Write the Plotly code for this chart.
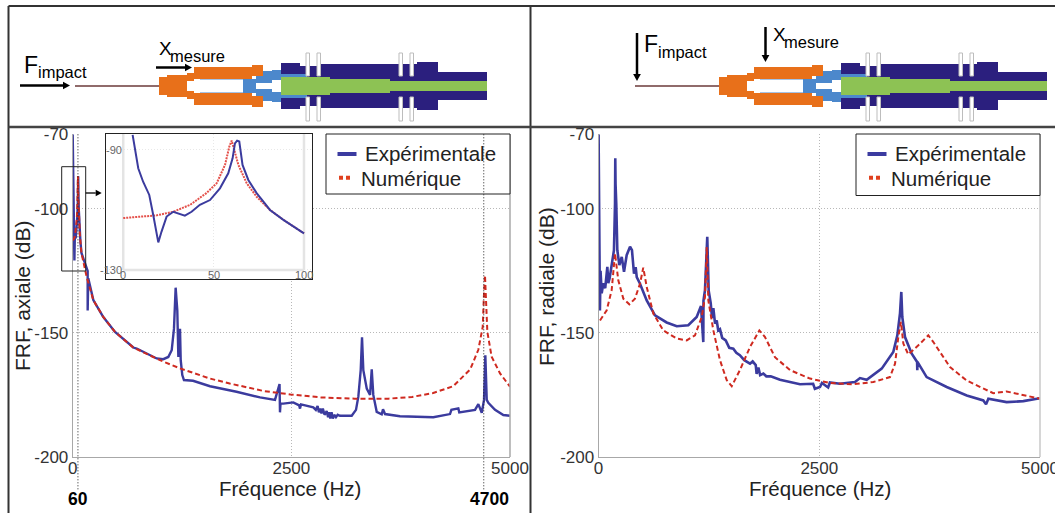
import plotly.graph_objects as go

W, H = 1055, 513
FONT = "Liberation Sans"
BLUE = "#3B3B9E"
RED = "#CF2A20"

NAME_EXP = "Expérimentale"
NAME_NUM = "Numérique"
X_TITLE = "Fréquence (Hz)"
Y_TITLE_AX = "FRF, axiale (dB)"
Y_TITLE_RAD = "FRF, radiale (dB)"
X_TICKS = [0, 2500, 5000]
X_LABELS = ["0", "2500", "5000"]
Y_TICKS = [-70, -100, -150, -200]
Y_LABELS = ["-70", "-100", "-150", "-200"]
MARK_FREQS = [60, 4700]
MARK_LABELS = ["60", "4700"]
INSET_X_TICKS = [0, 50, 100]
INSET_Y_TICKS = [-90, -130]

# Inset, axial 0-100 Hz
inset_num_f = [0, 9, 18.5, 27.7, 37, 46, 51.7, 56.3, 58.7, 60, 61.2, 63.7, 68.3, 73.8, 81.2, 88.6, 100]
inset_num_db = [-112.7, -112.3, -111.8, -110.6, -108.3, -104.4, -101.1, -95, -88.9, -86.9, -89.4, -95, -101.1, -105.6, -110, -113.3, -117.8]
inset_exp_f = [5.2, 6.5, 8.3, 11, 14.4, 16.6, 19.4, 21.2, 24, 27.7, 30.4, 34.1, 37.8, 42.4, 48, 53.5, 58.1, 60.5, 61.8, 63, 64.2, 66, 69.2, 73.8, 81.2, 88.6, 100]
inset_exp_db = [-85, -90, -96.1, -100.6, -105, -111.7, -120.8, -117.2, -112.2, -110.6, -111.1, -111.9, -110.6, -108.3, -106.7, -102.8, -97.8, -92.8, -87.8, -86.9, -87.2, -95, -100, -104.4, -110, -113.3, -117.8]

# Axial, whole band
ax_num_f = inset_num_f + [160, 236, 350, 484, 693, 998, 1227, 1570, 1795, 2182, 2490, 2839, 3224, 3611, 3880, 4122, 4350, 4545, 4638, 4688, 4703, 4714, 4741, 4790, 4886, 5000]
ax_num_db = inset_num_db + [-127.5, -136.8, -143.6, -149.6, -155.9, -161, -164.3, -168.4, -170.4, -173.4, -174.8, -176, -176.5, -176.5, -175.8, -174.2, -171.5, -164.7, -156.8, -147.6, -134, -126.8, -149.6, -159.6, -166.3, -171.7]
ax_exp_f = [0] + inset_exp_f + [165, 171, 171, 178, 236, 350, 484, 693, 732, 807, 960, 1036, 1093, 1132, 1158, 1177, 1196, 1208, 1227, 1235, 1253, 1272, 1376, 1570, 1873, 2142, 2313, 2365, 2370, 2372, 2376, 2408, 2522, 2590, 2599, 2610, 2751, 2780, 2800, 2815, 2830, 2845, 2860, 2880, 2904, 2920, 2930, 2945, 2960, 2975, 2990, 3010, 3030, 3056, 3190, 3239, 3266, 3293, 3308, 3323, 3362, 3400, 3419, 3437, 3476, 3533, 3548, 3571, 3742, 4123, 4314, 4330, 4409, 4420, 4600, 4638, 4677, 4703, 4718, 4734, 4752, 4829, 4924, 5000]
ax_exp_db = [-70] + inset_exp_db + [-125, -125, -141, -128, -136.8, -143.6, -149.6, -155.9, -156.3, -157.7, -160.3, -160.6, -159.7, -157, -148.3, -131.8, -140.9, -159.7, -148.3, -161, -167, -169, -169.3, -171.5, -173.7, -176, -177, -170.6, -182, -170.6, -178.5, -178.5, -178, -179.2, -180.5, -178.8, -180, -181, -179.5, -182, -180.5, -182.5, -180.5, -183, -181.5, -184, -182, -184.5, -182, -184.5, -183, -184, -183, -183.4, -183.4, -181, -175.7, -165, -151.8, -165, -172.4, -175, -164.7, -175, -181.8, -182.8, -180.8, -182.7, -183.6, -184, -182.7, -181, -180.4, -182, -181, -178.7, -182.2, -177, -159, -177, -178.2, -181, -183.1, -183.4]

# Radial, whole band
rad_num_f = [16, 92, 148, 186, 223, 280, 348, 412, 469, 506, 545, 620, 733, 885, 998, 1092, 1168, 1205, 1225, 1243, 1300, 1375, 1451, 1508, 1602, 1715, 1821, 1885, 1998, 2168, 2395, 2621, 2885, 3112, 3301, 3358, 3395, 3425, 3452, 3508, 3622, 3735, 3792, 3981, 4170, 4358, 4471, 4622, 4811, 5000]
rad_num_db = [-145, -140.9, -132.8, -118, -128.8, -136.2, -138.5, -136.2, -130.2, -123.7, -131.5, -142.2, -149, -152.3, -153, -151, -143.6, -135.5, -115.4, -136.9, -149, -161, -169, -171.5, -164.9, -155.7, -149, -151.7, -159.8, -165, -168.4, -170.2, -170.7, -169.8, -167.8, -162.4, -151.7, -145.6, -154.3, -158.7, -155, -151, -153.7, -163.8, -169.2, -172.5, -174.3, -173.6, -175.2, -176.5]
rad_exp_f = [0, 8, 15, 22, 35, 53, 75, 99, 110, 125, 148, 174, 186, 189, 192, 200, 212, 235, 262, 288, 318, 356, 378, 401, 420, 432, 469, 545, 639, 771, 885, 1016, 1111, 1160, 1186, 1188, 1205, 1231, 1247, 1270, 1285, 1300, 1319, 1338, 1355, 1375, 1400, 1440, 1480, 1526, 1560, 1600, 1650, 1715, 1745, 1780, 1790, 1810, 1830, 1866, 1900, 1950, 2055, 2281, 2430, 2450, 2508, 2530, 2600, 2620, 2734, 2904, 2961, 3037, 3207, 3338, 3384, 3414, 3429, 3440, 3471, 3547, 3608, 3610, 3612, 3716, 3943, 4170, 4358, 4389, 4415, 4622, 4811, 5000]
rad_exp_db = [-70, -110, -141, -125, -134.1, -130, -132, -123.4, -130, -128, -123.4, -116.7, -97.8, -79.7, -90, -97.8, -116.7, -122.7, -119.4, -125.4, -118.7, -115.3, -116.7, -126.1, -123.5, -127.5, -130.2, -136.9, -142.9, -145.8, -147.3, -146.9, -143.6, -139.2, -153.7, -137, -132.8, -111.3, -133, -138, -144, -140, -146.3, -145, -149, -148.5, -152, -153, -156, -156.4, -158, -159, -161, -162.4, -161.5, -163, -166.5, -164, -167, -166.4, -167.5, -167.5, -168.9, -170.7, -170.5, -172.5, -171.8, -170.2, -172, -170, -170.5, -169.8, -168.2, -168.9, -164.4, -157.7, -151, -142.2, -133.5, -143.6, -151.7, -158.4, -161.7, -165, -161.7, -167.8, -171.8, -175.2, -177.2, -178.8, -176.5, -177.9, -177.5, -176.3]


def px(x):
    return x / W


def py(y):
    return 1 - y / H


shapes = []
annotations = []


def rect(x0, y0, x1, y1, fill, line=None, lw=0, layer="above"):
    shapes.append(dict(type="rect", xref="paper", yref="paper", x0=px(x0), x1=px(x1), y0=py(y0), y1=py(y1),
                       fillcolor=fill, line=dict(color=line or fill, width=lw), layer=layer))


def seg(x0, y0, x1, y1, color, width, dash="solid", layer="above"):
    shapes.append(dict(type="line", xref="paper", yref="paper", x0=px(x0), x1=px(x1), y0=py(y0), y1=py(y1),
                       line=dict(color=color, width=width, dash=dash), layer=layer))


def arrow(x0, y0, x1, y1, width=2.5, head=7):
    dx = 1 if x1 > x0 else 0
    seg(x0, y0, x1 - dx * head if dx else x1, y1 if dx else y1 - head, "black", width)
    if dx:
        pts = [(x1, y1), (x1 - head, y1 - head * 0.55), (x1 - head, y1 + head * 0.55)]
    else:
        pts = [(x1, y1), (x1 - head * 0.55, y1 - head), (x1 + head * 0.55, y1 - head)]
    path = "M " + " L ".join(f"{px(a):.5f},{py(b):.5f}" for a, b in pts) + " Z"
    shapes.append(dict(type="path", xref="paper", yref="paper", path=path, fillcolor="black", line=dict(width=0)))


def text(x, y, s, size, color="black", xa="left", rot=0):
    annotations.append(dict(xref="paper", yref="paper", x=px(x), y=py(y), text=s, showarrow=False, textangle=rot,
                            xanchor=xa, yanchor="middle", font=dict(family=FONT, size=size, color=color)))


def mirror(d, x0, y0, x1, y1, color):
    rect(x0 + d, y0, x1 + d, y1, color)
    rect(x0 + d, 172 - y1, x1 + d, 172 - y0, color)


def schematic(d):
    ORANGE, LBLUE, NAVY, GREEN = "#E8701A", "#4C88CC", "#2B1F7E", "#8DC254"
    seg(75 + d, 86, 159 + d, 86, "#6B3A3A", 1.6)
    # navy outer sleeve
    for a, t, b in [(281, 63, 300), (300, 66, 320), (320, 64, 417), (417, 62, 438), (438, 72, 487)]:
        mirror(d, a, t, b, 86, NAVY)
    # light-blue connector
    for a, t, b, bot in [(243, 79, 256, 86), (256, 76, 263, 83), (263, 71, 272, 83), (272, 70, 281, 80), (281, 74, 307, 79)]:
        mirror(d, a, t, b, bot, LBLUE)
    rect(200 + d, 78, 243 + d, 79.5, LBLUE)
    rect(200 + d, 92.5, 243 + d, 94, LBLUE)
    # orange front
    for a, t, b, bot in [(159, 77, 167, 86), (167, 75, 178, 86), (178, 75, 187, 86), (187, 73, 194, 81), (194, 67, 252, 79), (252, 65, 263, 76)]:
        mirror(d, a, t, b, bot, ORANGE)
    # green core
    for a, t, b in [(281, 77, 330), (330, 79, 390), (390, 81, 487)]:
        mirror(d, a, t, b, 86, GREEN)
    # pins
    for a in [306, 317, 399, 410]:
        rect(a + d, 53, a + 3.5 + d, 76, "#FFFFFF", "#BDBDBD", 1)
        rect(a + d, 97, a + 3.5 + d, 121, "#FFFFFF", "#BDBDBD", 1)


schematic(0)
schematic(560)

# borders
seg(8.5, 6, 1055, 6, "#333333", 2)
seg(8.5, 6, 8.5, 513, "#333333", 2)
seg(530.5, 6, 530.5, 513, "#333333", 2)
seg(8.5, 127, 1055, 127, "#444444", 2.5)

# schematic labels and arrows
arrow(20, 85.5, 70, 85.5)
arrow(156, 67.5, 192, 67.5)
arrow(637, 33, 637, 81)
arrow(765.5, 27, 765.5, 62)
text(22, 65, "F", 23)
text(36, 72, "impact", 16.5)
text(157, 48, "X", 19)
text(168, 56, "mesure", 16.5)
text(642, 44, "F", 23)
text(656, 52, "impact", 16.5)
text(771, 35, "X", 19)
text(782, 42, "mesure", 16.5)

# main-plot decorations
rect(61.7, 166.7, 85.7, 271, "rgba(0,0,0,0)", "#222222", 1)
arrow(85.7, 193, 101.7, 193, width=1.3, head=6)
seg(510, 134.3, 510, 457, "#A8A8A8", 1.5)
seg(1040, 134.3, 1040, 457, "#C8C8C8", 1.5)

# axis titles
text(290, 488.5, X_TITLE, 20.5, "#222222", "center")
text(820, 488.5, X_TITLE, 20.5, "#222222", "center")
annotations.append(dict(xref="paper", yref="paper", x=px(22), y=py(296), text=Y_TITLE_AX, textangle=-90, showarrow=False,
                        xanchor="center", yanchor="middle", font=dict(family=FONT, size=21, color="#222222")))
annotations.append(dict(xref="paper", yref="paper", x=px(546), y=py(287), text=Y_TITLE_RAD, textangle=-90, showarrow=False,
                        xanchor="center", yanchor="middle", font=dict(family=FONT, size=21, color="#222222")))


# legends
def legend_box(d, x0, y1):
    rect(x0, 134, x0 + 184, y1, "white", "#222222", 1)
    seg(x0 + 11.5, 154, x0 + 30.5, 154, "#3B3BA0", 4)
    seg(x0 + 13, 177.7, x0 + 25, 177.7, "#E0401E", 4, dash="4px,3px")
    text(x0 + 37, 153, NAME_EXP, 20.5, "#222222")
    text(x0 + 33, 178, NAME_NUM, 20.5, "#222222")


legend_box(0, 326, 194)
legend_box(0, 856, 195.5)

# dotted marker lines and their labels
for f, lab, shift in zip(MARK_FREQS, MARK_LABELS, [0, 6]):
    shapes.append(dict(type="line", xref="x", yref="paper", x0=f, x1=f, y0=py(134.3), y1=py(491),
                       line=dict(color="#222222", width=1, dash="1px,2px"), layer="above"))
    annotations.append(dict(xref="x", yref="paper", x=f, y=py(499), xshift=shift, text=f"<b>{lab}</b>", showarrow=False,
                            xanchor="center", yanchor="middle", font=dict(family=FONT, size=17.5, color="black")))

# inset tick labels
inset_font = dict(family=FONT, size=11, color="#666666")
for v in INSET_X_TICKS:
    annotations.append(dict(xref="x3", yref="paper", x=v, y=py(274.5), text=str(v), showarrow=False,
                            xanchor="center", yanchor="middle", font=inset_font))
for v in INSET_Y_TICKS:
    annotations.append(dict(xref="paper", yref="y3", x=px(124), y=v, text=str(v), showarrow=False,
                            xanchor="right", yanchor="middle", font=inset_font))

fig = go.Figure()
fig.add_trace(go.Scatter(x=ax_exp_f, y=ax_exp_db, mode="lines", name=NAME_EXP, showlegend=False,
                         line=dict(color=BLUE, width=2.4), xaxis="x", yaxis="y"))
fig.add_trace(go.Scatter(x=ax_num_f, y=ax_num_db, mode="lines", name=NAME_NUM, showlegend=False,
                         line=dict(color=RED, width=2, dash="5px,3px"), xaxis="x", yaxis="y"))
fig.add_trace(go.Scatter(x=rad_exp_f, y=rad_exp_db, mode="lines", name=NAME_EXP, showlegend=False,
                         line=dict(color=BLUE, width=2.6), xaxis="x2", yaxis="y2"))
fig.add_trace(go.Scatter(x=rad_num_f, y=rad_num_db, mode="lines", name=NAME_NUM, showlegend=False,
                         line=dict(color=RED, width=2, dash="5px,3px"), xaxis="x2", yaxis="y2"))
# inset frame of the original plot
for xs, ys in [([0, 0], [-130, -84.7]), ([100, 100], [-130, -84.7]), ([0, 100], [-130, -130])]:
    fig.add_trace(go.Scatter(x=xs, y=ys, mode="lines", showlegend=False, hoverinfo="skip",
                             line=dict(color="#E4E4E4", width=2.5), xaxis="x3", yaxis="y3"))
fig.add_trace(go.Scatter(x=inset_num_f, y=inset_num_db, mode="lines", showlegend=False,
                         line=dict(color="#E4504A", width=2, dash="2px,1px"), xaxis="x3", yaxis="y3"))
fig.add_trace(go.Scatter(x=inset_exp_f, y=inset_exp_db, mode="lines", showlegend=False,
                         line=dict(color=BLUE, width=2), xaxis="x3", yaxis="y3"))

tickfont = dict(family=FONT, size=17, color="#333333")


def xax(x0, x1, anchor):
    return dict(domain=[px(x0), px(x1)], range=[0, 5000], anchor=anchor, tickvals=X_TICKS, ticktext=X_LABELS,
                showgrid=True, gridcolor="#B8B8B8", griddash="1px,2px", gridwidth=1, zeroline=False, showline=True,
                linecolor="#A8A8A8", linewidth=1, ticks="", tickfont=tickfont, automargin=False,
                ticklabeloverflow="allow", ticklabelstandoff=-4)


def yax(x_anchor):
    return dict(domain=[py(457), py(134.3)], range=[-200, -70], anchor=x_anchor, tickvals=Y_TICKS, ticktext=Y_LABELS,
                showgrid=True, gridcolor="#B8B8B8", griddash="1px,2px", gridwidth=1, zeroline=False, showline=True,
                linecolor="#A8A8A8", linewidth=1, ticks="", tickfont=tickfont, automargin=False)


fig.update_layout(
    width=W, height=H, autosize=False, margin=dict(l=0, r=0, t=0, b=0), showlegend=False,
    paper_bgcolor="white", plot_bgcolor="white", font=dict(family=FONT),
    xaxis=xax(72.7, 510, "y"), yaxis=yax("x"),
    xaxis2=xax(598.6, 1040, "y2"), yaxis2=yax("x2"),
    xaxis3=dict(domain=[px(105.7), px(312.3)], range=[-9.7, 104.6], anchor="y3", tickvals=INSET_X_TICKS,
                showticklabels=False, ticks="", showgrid=True, gridcolor="#E8E8E8", griddash="1px,2px",
                zeroline=False, showline=True, mirror=True, linecolor="#222222", linewidth=1.2, automargin=False),
    yaxis3=dict(domain=[py(279), py(134)], range=[-133, -84.7], anchor="x3", tickvals=INSET_Y_TICKS,
                showticklabels=False, ticks="", showgrid=True, gridcolor="#E8E8E8", griddash="1px,2px",
                zeroline=False, showline=True, mirror=True, linecolor="#222222", linewidth=1.2, automargin=False),
    shapes=shapes, annotations=annotations,
)

fig.write_html("out.html", config={"displayModeBar": False},
               post_script="document.body.style.margin='0';document.body.style.overflow='hidden';")
